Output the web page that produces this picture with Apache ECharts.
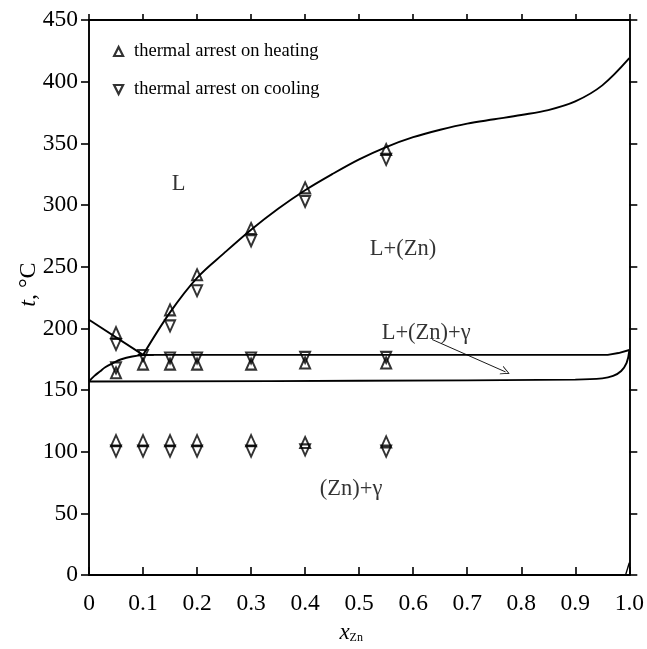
<!DOCTYPE html>
<html>
<head>
<meta charset="utf-8">
<script src="https://cdn.jsdelivr.net/npm/echarts@6/dist/echarts.min.js"></script>
<style>html,body{margin:0;padding:0;background:#fff}#c{width:647px;height:649px}</style>
</head>
<body>
<div id="c"></div>
<script>
// ---- data ----
const compX = [0.05, 0.10, 0.15, 0.20, 0.30, 0.40, 0.55];
const heatLiquidus = [196.5, null, 215, 243.5, 281, 314, 345];
const coolLiquidus = [187, null, 202, 230.5, 271, 303, 337];
const heatEutectic = [164, 171, 171, 171, 171, 172, 172];
const coolEutectic = [168, 178, 176, 176, 176, 176.5, 176.5];
const heatLow = [109, 109, 109, 109, 109, 107.5, 108];
const coolLow = [100.5, 100.5, 100.5, 100.5, 100.5, 101.5, 100.5];

const liqLeftX = [0, 0.1];
const liqLeftT = [207, 178.5];
const liqX = [0.1, 0.15, 0.2, 0.25, 0.3, 0.35, 0.4, 0.45, 0.5, 0.55, 0.6, 0.65, 0.7, 0.75, 0.8, 0.85, 0.9, 0.95, 1.0];
const liqT = [178.5, 213, 241, 261, 280, 297, 312, 325, 337, 347, 355, 361, 366, 369.5, 373, 377, 384, 397, 419];
const eutX = [0.09, 0.5, 0.96, 0.98, 1.0];
const eutT = [178.5, 178.5, 178.5, 180, 182.5];
const solvX = [0, 0.01, 0.02, 0.03, 0.045, 0.06, 0.08, 0.1, 0.12];
const solvT = [157, 161.5, 165, 168.5, 172, 175, 177.2, 178.3, 178.5];
const lowX = [0, 0.5, 0.9, 0.95, 0.97, 0.985, 0.995, 1.0];
const lowT = [157, 157.5, 158.5, 159.5, 161.5, 165.5, 172, 182];
const tailX = [0.993, 1.0];
const tailT = [0, 10];
const arrowX = [0.635, 0.771];
const arrowT = [191, 164.7];

const regionLabels = ['L', 'L+(Zn)', 'L+(Zn)+γ', '(Zn)+γ'];
const regionX = [0.166, 0.581, 0.624, 0.485];
const regionT = [317, 264.5, 196.5, 70];

const heatName = 'thermal arrest on heating';
const coolName = 'thermal arrest on cooling';

// ---- build ----
const zip = (xs, ys) => xs.map((x, i) => [x, ys[i]]).filter(p => p[1] != null);
const heatData = [].concat(zip(compX, heatLiquidus), zip(compX, heatEutectic), zip(compX, heatLow));
const coolData = [].concat(zip(compX, coolLiquidus), zip(compX, coolEutectic), zip(compX, coolLow));

const FONT = 'Liberation Serif';
const upTri = 'path://M5,0 L10,10 L0,10 Z';
const downTri = 'path://M0,0 L10,0 L5,10 Z';
const markerStyle = { color: 'rgba(0,0,0,0)', borderColor: '#000', borderWidth: 2 };
const lineS = (xs, ys, smooth, w) => ({
  type: 'line', data: zip(xs, ys), showSymbol: false, symbol: 'none', smooth: smooth,
  lineStyle: { color: '#000', width: w || 1.9 }, silent: true, z: 3
});

const chart = echarts.init(document.getElementById('c'), null, { renderer: 'canvas' });
const axisLine = { show: true, onZero: false, lineStyle: { color: '#000', width: 1.9 } };
chart.setOption({
  animation: false,
  backgroundColor: '#fff',
  textStyle: { fontFamily: FONT, color: '#000' },
  grid: { left: 89, right: 16, top: 20, bottom: 69, containLabel: false },
  legend: {
    orient: 'vertical', left: 108, top: 37, itemGap: 19,
    itemWidth: 9, itemHeight: 9,
    data: [{ name: heatName, icon: upTri }, { name: coolName, icon: downTri }],
    itemStyle: { color: 'rgba(0,0,0,0)', borderColor: '#000', borderWidth: 2.2 },
    textStyle: { fontFamily: FONT, fontSize: 18.5, color: '#000', padding: [0, 0, 0, 6] }
  },
  xAxis: [{
    type: 'value', min: 0, max: 1, interval: 0.1, position: 'bottom',
    axisLine: axisLine,
    axisTick: { show: true, inside: true, length: 8, lineStyle: { color: '#000', width: 1.6 } },
    splitLine: { show: false },
    axisLabel: { fontFamily: FONT, fontSize: 23.5, color: '#000', margin: 17,
      formatter: v => v === 0 ? '0' : (Math.abs(v - 1) < 1e-9 ? '1.0' : v.toFixed(1)) },
    name: '{i|x}{s|Zn}', nameLocation: 'middle', nameGap: 45,
    nameTextStyle: { padding: [0, 16, 0, 0], rich: {
      i: { fontFamily: FONT, fontStyle: 'italic', fontSize: 23, color: '#000' },
      s: { fontFamily: FONT, fontSize: 12, color: '#000', verticalAlign: 'bottom', padding: [8, 0, 0, 0] } } }
  }, {
    type: 'value', min: 0, max: 1, interval: 0.1, position: 'top',
    axisLine: axisLine,
    axisTick: { show: true, inside: false, length: 6, lineStyle: { color: '#000', width: 1.6 } },
    splitLine: { show: false }, axisLabel: { show: false }
  }],
  yAxis: [{
    type: 'value', min: 0, max: 450, interval: 50, position: 'left',
    axisLine: axisLine,
    axisTick: { show: true, inside: false, length: 8, lineStyle: { color: '#000', width: 1.6 } },
    splitLine: { show: false },
    axisLabel: { fontFamily: FONT, fontSize: 23.5, color: '#000', margin: 11 },
    name: '{i|t}, °C', nameLocation: 'middle', nameGap: 48, nameRotate: 90,
    nameMoveOverlap: false,
    nameTextStyle: { padding: [0, 0, 0, 26], rich: {
      i: { fontFamily: FONT, fontStyle: 'italic', fontSize: 24, color: '#000' } },
      fontFamily: FONT, fontSize: 24, color: '#000' }
  }, {
    type: 'value', min: 0, max: 450, interval: 50, position: 'right',
    axisLine: axisLine,
    axisTick: { show: true, inside: false, length: 8, lineStyle: { color: '#000', width: 1.6 } },
    splitLine: { show: false }, axisLabel: { show: false }
  }],
  series: [
    lineS(liqLeftX, liqLeftT, false),
    lineS(liqX, liqT, 0.35),
    lineS(eutX, eutT, false),
    lineS(solvX, solvT, 0.4),
    lineS(lowX, lowT, 0.4),
    lineS(tailX, tailT, false, 1.4),
    {
      type: 'line', data: [], silent: true,
      markLine: {
        silent: true, animation: false,
        symbol: ['none', 'path://M0,10 L5,0 L10,10 L9,10 L5,2 L1,10 Z'], symbolSize: [9, 9],
        lineStyle: { color: '#000', width: 0.9, type: 'solid' },
        label: { show: false },
        data: [[{ coord: [arrowX[0], arrowT[0]] }, { coord: [arrowX[1], arrowT[1]] }]]
      }
    },
    {
      name: heatName, type: 'scatter', data: heatData, symbol: upTri, symbolSize: [10, 11],
      itemStyle: markerStyle, z: 5
    },
    {
      name: coolName, type: 'scatter', data: coolData, symbol: downTri, symbolSize: [10, 11],
      itemStyle: markerStyle, z: 5
    },
    {
      type: 'scatter', symbolSize: 0, silent: true,
      data: regionLabels.map((t, i) => ({ value: [regionX[i], regionT[i]], label: { formatter: t } })),
      label: { show: true, position: 'inside', fontFamily: FONT, fontSize: 22.5, color: '#000' }
    }
  ]
});
</script>
</body>
</html>
